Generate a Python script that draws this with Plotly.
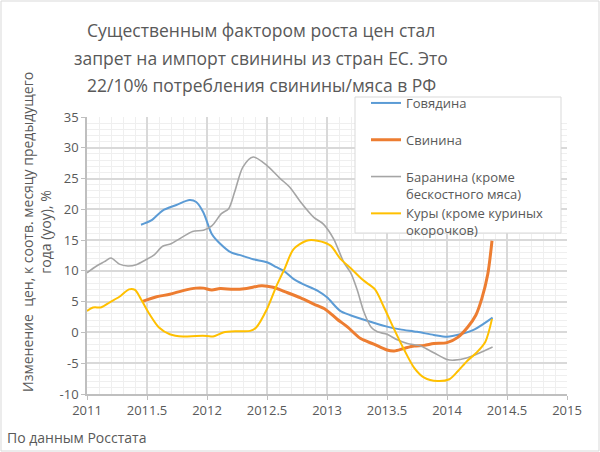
import plotly.graph_objects as go

# Говядина
beef_x = [2011.45, 2011.535, 2011.63, 2011.745, 2011.855, 2011.91, 2011.97, 2012.04, 2012.11, 2012.2,
          2012.27, 2012.385, 2012.5, 2012.58, 2012.64, 2012.72, 2012.8, 2012.92, 2013.0, 2013.11,
          2013.195, 2013.335, 2013.5, 2013.61, 2013.75, 2013.89, 2014.0, 2014.11, 2014.23, 2014.38]
beef_y = [17.5, 18.2, 19.8, 20.7, 21.5, 21.2, 19.5, 16.0, 14.4, 13.0,
          12.6, 11.9, 11.4, 10.6, 10.0, 8.7, 7.85, 6.8, 5.7, 3.5,
          2.8, 1.9, 0.95, 0.5, 0.1, -0.4, -0.7, -0.3, 0.5, 2.4]

# Свинина
pork_x = [2011.457, 2011.58, 2011.69, 2011.8, 2011.91, 2011.97, 2012.04, 2012.11, 2012.22, 2012.33,
          2012.455, 2012.55, 2012.665, 2012.78, 2012.89, 2012.99, 2013.085, 2013.17, 2013.28, 2013.39,
          2013.5, 2013.56, 2013.64, 2013.725, 2013.81, 2013.89, 2014.0, 2014.09, 2014.17, 2014.24,
          2014.29, 2014.34, 2014.375]
pork_y = [5.0, 5.8, 6.2, 6.8, 7.2, 7.2, 6.9, 7.15, 7.0, 7.15,
          7.6, 7.35, 6.5, 5.6, 4.6, 3.7, 2.15, 0.9, -1.0, -1.9,
          -2.85, -3.0, -2.6, -2.2, -2.1, -1.8, -1.65, -0.8, 0.8, 2.8,
          5.5, 9.5, 14.9]

# Баранина
lamb_x = [2011.0, 2011.08, 2011.145, 2011.2, 2011.27, 2011.34, 2011.41, 2011.49, 2011.56, 2011.63,
          2011.7, 2011.77, 2011.88, 2011.97, 2012.04, 2012.12, 2012.18, 2012.23, 2012.3, 2012.385,
          2012.5, 2012.61, 2012.69, 2012.78, 2012.89, 2012.97, 2013.055, 2013.14, 2013.2, 2013.25,
          2013.31, 2013.37, 2013.42, 2013.5, 2013.585, 2013.67, 2013.78, 2013.89, 2014.0, 2014.06,
          2014.17, 2014.25, 2014.38]
lamb_y = [9.7, 10.8, 11.5, 12.1, 11.1, 10.8, 11.0, 11.8, 12.6, 14.0,
          14.4, 15.2, 16.4, 16.6, 17.3, 19.3, 20.1, 22.8, 26.9, 28.5,
          27.1, 25.0, 23.6, 21.2, 18.7, 17.6, 15.2, 11.4, 9.6, 7.0,
          3.2, 0.8, 0.1, -0.3, -1.2, -1.8, -2.2, -3.3, -4.4, -4.5,
          -4.1, -3.5, -2.35]

# Куры
chick_x = [2011.0, 2011.05, 2011.12, 2011.19, 2011.27, 2011.35, 2011.4, 2011.45, 2011.52, 2011.6,
           2011.69, 2011.8, 2011.91, 2012.0, 2012.05, 2012.135, 2012.25, 2012.36, 2012.41, 2012.5,
           2012.58, 2012.65, 2012.72, 2012.83, 2012.92, 2013.03, 2013.11, 2013.2, 2013.3, 2013.4,
           2013.47, 2013.56, 2013.64, 2013.725, 2013.81, 2013.92, 2014.02, 2014.09, 2014.17, 2014.25,
           2014.32, 2014.375]
chick_y = [3.5, 4.05, 4.1, 4.9, 5.8, 7.0, 6.9, 5.4, 3.0, 0.8,
           -0.3, -0.67, -0.57, -0.57, -0.67, 0.0, 0.2, 0.25, 0.8, 3.8,
           7.6, 10.5, 13.5, 14.9, 14.9, 14.1, 12.0, 10.4, 8.5, 7.0,
           4.3, 0.5, -2.7, -5.7, -7.35, -7.9, -7.6, -6.3, -4.6, -3.2,
           -1.5, 2.2]

y_ticks = [-10, -5, 0, 5, 10, 15, 20, 25, 30, 35]
y_labels = ['-10', '-5', '0', '5', '10', '15', '20', '25', '30', '35']

title_lines = ['Существенным фактором роста цен стал',
               'запрет на импорт свинины из стран ЕС. Это',
               '22/10% потребления свинины/мяса в РФ']

txt = '#595959'
font = 'Open Sans'

# pixel -> paper helpers (plot area is 480 x 277 px, origin at 87, 394)
def px(x):
    return (x - 87) / 480

def py(y):
    return (394 - y) / 277

fig = go.Figure()
fig.add_trace(go.Scatter(x=beef_x, y=beef_y, mode='lines', name='Говядина<br>&nbsp;',
                         line=dict(color='#5b9bd5', width=2, shape='spline', smoothing=0.8)))
fig.add_trace(go.Scatter(x=pork_x, y=pork_y, mode='lines', name='Свинина<br>&nbsp;',
                         line=dict(color='#ed7d31', width=3, shape='spline', smoothing=0.8)))
fig.add_trace(go.Scatter(x=lamb_x, y=lamb_y, mode='lines', name='Баранина (кроме<br>бескостного мяса)',
                         line=dict(color='#a5a5a5', width=1.6, shape='spline', smoothing=0.8)))
fig.add_trace(go.Scatter(x=chick_x, y=chick_y, mode='lines', name='Куры (кроме куриных<br>окорочков)',
                         line=dict(color='#ffc000', width=2, shape='spline', smoothing=0.8)))

fig.update_layout(
    width=600, height=452,
    margin=dict(l=87, r=33, t=117, b=58),
    paper_bgcolor='white', plot_bgcolor='white',
    font=dict(family=font, color=txt, size=13),
    legend=dict(x=px(366), xanchor='left', y=py(88), yanchor='top',
                bgcolor='rgba(0,0,0,0)', borderwidth=0,
                font=dict(size=13, color=txt), valign='top', tracegroupgap=0),
    showlegend=True,
)
fig.update_xaxes(range=[2011, 2015], tick0=2011, dtick=0.5, tickformat='.1~f',
                 showgrid=True, gridcolor='#d9d9d9', gridwidth=1.5,
                 minor=dict(dtick=0.1, showgrid=True, gridcolor='#efefef', gridwidth=1),
                 showline=True, linecolor='#bfbfbf', linewidth=1.5,
                 ticks='outside', ticklen=4, tickcolor='#bfbfbf',
                 tickfont=dict(size=13, color=txt), zeroline=False)
fig.update_yaxes(range=[-10, 35], tickmode='array', tickvals=y_ticks, ticktext=y_labels,
                 showgrid=True, gridcolor='#d9d9d9', gridwidth=1.5,
                 minor=dict(dtick=1, tick0=-10, showgrid=True, gridcolor='#efefef', gridwidth=1),
                 showline=True, linecolor='#bfbfbf', linewidth=1.5,
                 ticks='outside', ticklen=4, tickcolor='#bfbfbf',
                 tickfont=dict(size=13, color=txt), zeroline=False)

# title, one line at a time for Excel-like line spacing
for i, line in enumerate(title_lines):
    fig.add_annotation(text=line, xref='paper', yref='paper', x=px(261), y=py(30 + 27.5 * i),
                       xanchor='center', yanchor='middle', showarrow=False,
                       font=dict(size=17.5, color=txt))

fig.add_annotation(text='Изменение  цен, к соотв. месяцу предыдущего<br>года (yoy), %',
                   textangle=-90, xref='paper', yref='paper',
                   x=px(36), y=py(232), xanchor='center', yanchor='middle',
                   showarrow=False, font=dict(size=14, color=txt))
fig.add_annotation(text='По данным Росстата', xref='paper', yref='paper',
                   x=px(5), y=py(437), xanchor='left', yanchor='middle',
                   showarrow=False, font=dict(size=14, color=txt))
# legend box
fig.add_shape(type='rect', xref='paper', yref='paper',
              x0=px(355), x1=px(561), y0=py(233), y1=py(97),
              line=dict(color='#d9d9d9', width=1), fillcolor='white', layer='above')
# outer chart border
fig.add_shape(type='rect', xref='paper', yref='paper',
              x0=px(1), x1=px(599), y0=py(451), y1=py(1),
              line=dict(color='#d9d9d9', width=1), layer='below')

fig.write_html("out.html", config={'displayModeBar': False},
               post_script="document.body.style.margin='0';")
